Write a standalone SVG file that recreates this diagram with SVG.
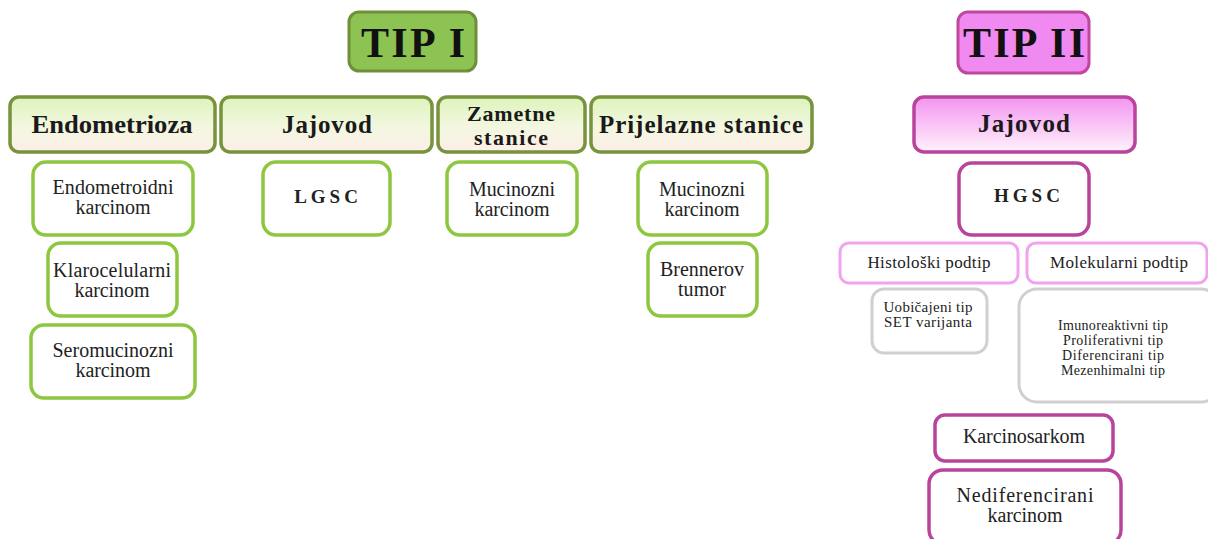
<svg xmlns="http://www.w3.org/2000/svg" width="1208" height="539" viewBox="0 0 1208 539">
<defs>
<linearGradient id="gGreen" x1="0" y1="0" x2="0" y2="1">
<stop offset="0" stop-color="#ddf3bb"/>
<stop offset="0.55" stop-color="#f3f7e0"/>
<stop offset="1" stop-color="#fdeee8"/>
</linearGradient>
<linearGradient id="gPink" x1="0" y1="0" x2="0" y2="1">
<stop offset="0" stop-color="#f394f0"/>
<stop offset="1" stop-color="#fff2fb"/>
</linearGradient>
<style>
text{font-family:"Liberation Serif","Times New Roman",serif;text-anchor:middle;fill:#222;}
.title{font-size:42px;font-weight:bold;fill:#111;}
.hdr{font-size:25px;font-weight:bold;fill:#1a1a1a;}
.hdr2{font-size:22px;font-weight:bold;fill:#1a1a1a;}
.t{font-size:20px;}
.abbr{font-size:19px;font-weight:bold;letter-spacing:4px;}
.sub{font-size:17px;}
.sm{font-size:15px;}
.xs{font-size:14px;}
.tip1{fill:#8cc352;stroke:#6f8f3a;stroke-width:3;}
.tip2{fill:#f08af0;stroke:#c0479e;stroke-width:3;}
.hg{fill:url(#gGreen);stroke:#77933c;stroke-width:3.5;}
.hp{fill:url(#gPink);stroke:#b8449c;stroke-width:3.5;}
.ng{fill:#fff;stroke:#8dc63f;stroke-width:3.5;}
.nm{fill:#fff;stroke:#b8449c;stroke-width:3.5;}
.nl{fill:#fff;stroke:#f0a4ee;stroke-width:3;}
.ngr{fill:#fff;stroke:#d0d0d0;stroke-width:3;}
</style>
</defs>
<rect width="1208" height="539" fill="#fff"/>

<g id="tip1"><rect class="tip1" x="349" y="12" width="127" height="59" rx="10"/><text class="title" x="413" y="57" textLength="104" lengthAdjust="spacing">TIP I</text></g>

<g id="endometrioza"><rect class="hg" x="10" y="97" width="205" height="55" rx="9"/><text class="hdr" x="112" y="133" textLength="161" lengthAdjust="spacingAndGlyphs">Endometrioza</text></g>
<g id="jajovod1"><rect class="hg" x="221" y="97" width="211" height="55" rx="9"/><text class="hdr" x="327" y="133" textLength="90" lengthAdjust="spacing">Jajovod</text></g>
<g id="zametne"><rect class="hg" x="438" y="97" width="147" height="55" rx="9"/><text class="hdr2" x="511" y="121" textLength="88" lengthAdjust="spacing">Zametne</text><text class="hdr2" x="511" y="145" textLength="74" lengthAdjust="spacing">stanice</text></g>
<g id="prijelazne"><rect class="hg" x="591" y="97" width="221" height="55" rx="9"/><text class="hdr" x="701" y="133" textLength="204" lengthAdjust="spacing">Prijelazne stanice</text></g>

<g id="endometroidni"><rect class="ng" x="33" y="162" width="160" height="73" rx="13"/><text class="t" x="113" y="194" textLength="121" lengthAdjust="spacing">Endometroidni</text><text class="t" x="113" y="214" textLength="75" lengthAdjust="spacing">karcinom</text></g>
<g id="klarocelularni"><rect class="ng" x="48" y="243" width="129" height="73" rx="13"/><text class="t" x="112" y="277" textLength="118" lengthAdjust="spacing">Klarocelularni</text><text class="t" x="112" y="297" textLength="75" lengthAdjust="spacing">karcinom</text></g>
<g id="seromucinozni"><rect class="ng" x="31" y="325" width="164" height="73" rx="13"/><text class="t" x="113" y="357" textLength="121" lengthAdjust="spacing">Seromucinozni</text><text class="t" x="113" y="377" textLength="75" lengthAdjust="spacing">karcinom</text></g>
<g id="lgsc"><rect class="ng" x="263" y="162" width="127" height="73" rx="13"/><text class="abbr" x="328" y="203">LGSC</text></g>
<g id="mucinozni1"><rect class="ng" x="447" y="162" width="130" height="73" rx="13"/><text class="t" x="512" y="196" textLength="86" lengthAdjust="spacing">Mucinozni</text><text class="t" x="512" y="216" textLength="75" lengthAdjust="spacing">karcinom</text></g>
<g id="mucinozni2"><rect class="ng" x="638" y="162" width="129" height="73" rx="13"/><text class="t" x="702" y="196" textLength="86" lengthAdjust="spacing">Mucinozni</text><text class="t" x="702" y="216" textLength="75" lengthAdjust="spacing">karcinom</text></g>
<g id="brennerov"><rect class="ng" x="648" y="243" width="109" height="73" rx="13"/><text class="t" x="702" y="276" textLength="84" lengthAdjust="spacing">Brennerov</text><text class="t" x="702" y="296" textLength="48" lengthAdjust="spacing">tumor</text></g>

<g id="tip2"><rect class="tip2" x="958" y="12" width="131" height="61" rx="10"/><text class="title" x="1024" y="57" textLength="122" lengthAdjust="spacing">TIP II</text></g>
<g id="jajovod2"><rect class="hp" x="914" y="97" width="221" height="55" rx="10"/><text class="hdr" x="1024" y="132" textLength="92" lengthAdjust="spacing">Jajovod</text></g>
<g id="hgsc"><rect class="nm" x="959" y="163" width="130" height="72" rx="13"/><text class="abbr" x="1029" y="202">HGSC</text></g>
<g id="histoloski"><rect class="nl" x="840" y="243" width="178" height="40" rx="9"/><text class="sub" x="929" y="268" textLength="123" lengthAdjust="spacing">Histološki podtip</text></g>
<g id="molekularni"><rect class="nl" x="1027" y="243" width="180" height="40" rx="9"/><text class="sub" x="1119" y="268" textLength="138" lengthAdjust="spacing">Molekularni podtip</text></g>
<g id="uobicajeni"><rect class="ngr" x="872" y="289" width="115" height="64" rx="12"/><text class="sm" x="928" y="312" textLength="89" lengthAdjust="spacing">Uobičajeni tip</text><text class="sm" x="928" y="327" textLength="88" lengthAdjust="spacing">SET varijanta</text></g>
<g id="molekularni-tipovi"><rect class="ngr" x="1019" y="289" width="200" height="113" rx="18"/><text class="xs" x="1113" y="330" textLength="110" lengthAdjust="spacing">Imunoreaktivni tip</text><text class="xs" x="1113" y="345" textLength="100" lengthAdjust="spacing">Proliferativni tip</text><text class="xs" x="1113" y="360" textLength="102" lengthAdjust="spacing">Diferencirani tip</text><text class="xs" x="1113" y="375" textLength="104" lengthAdjust="spacing">Mezenhimalni tip</text></g>
<g id="karcinosarkom"><rect class="nm" x="935" y="415" width="178" height="46" rx="10"/><text class="t" x="1024" y="443" textLength="122" lengthAdjust="spacing">Karcinosarkom</text></g>
<g id="nediferencirani"><rect class="nm" x="929" y="470" width="192" height="74" rx="14"/><text class="t" x="1025" y="502" textLength="137" lengthAdjust="spacing">Nediferencirani</text><text class="t" x="1025" y="522" textLength="75" lengthAdjust="spacing">karcinom</text></g>

<g id="connectors"></g>
</svg>
